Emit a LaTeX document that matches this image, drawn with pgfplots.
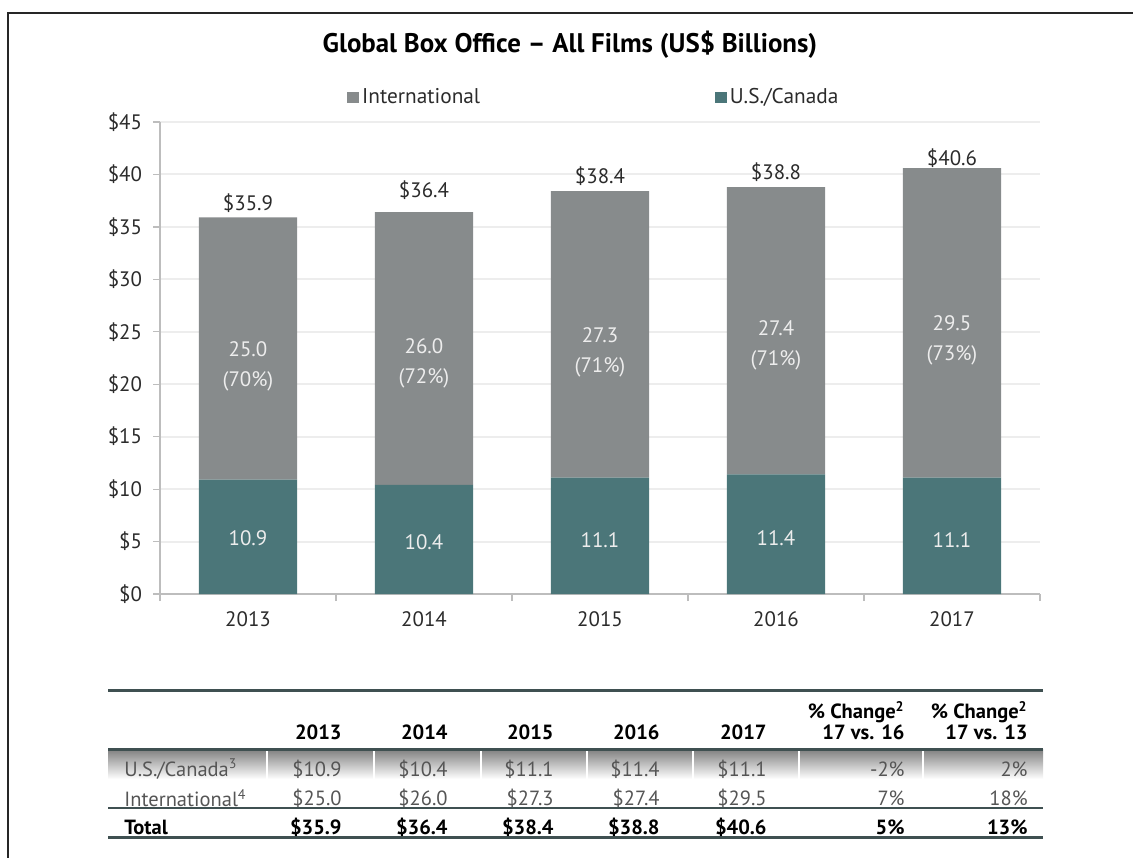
\documentclass[border=0pt]{standalone}
\usepackage{pgfplots}
\pgfplotsset{compat=1.18}
\usepackage{fontspec}
\setmainfont{PT Sans}
\definecolor{intl}{HTML}{878B8C}
\definecolor{usca}{HTML}{4B7679}
\definecolor{gridc}{HTML}{EDEDED}
\definecolor{axisc}{HTML}{BDBDBD}
\definecolor{tline}{HTML}{3F5051}
\definecolor{shade}{HTML}{D8DCDC}
\definecolor{txt}{HTML}{2B2B2B}
\definecolor{rowtxt}{HTML}{555555}
\definecolor{inlab}{HTML}{EDEDED}
\begin{document}
\begin{tikzpicture}
\path[use as bounding box] (0,0) rectangle (566.5bp,-429bp);
\draw[line width=1.2bp, color=black!85] (4bp,-429bp) -- (4bp,-6.5bp) -- (566.5bp,-6.5bp);
\node[font=\bfseries\fontsize{13.5}{16}\selectfont, text=black] at (285bp,-22.5bp) {Global Box Office – All Films (US\$ Billions)};

\begin{axis}[
  at={(80bp,-297bp)}, anchor=south west,
  scale only axis, width=440bp, height=236bp,
  ybar stacked, bar width=0.557,
  xmin=-0.5, xmax=4.5, ymin=0, ymax=45,
  ytick={0,5,10,15,20,25,30,35,40,45},
  yticklabel={\$\pgfmathprintnumber{\tick}},
  /pgf/number format/assume math mode=true,
  xtick={0,1,2,3,4}, xticklabels={2013,2014,2015,2016,2017},
  minor xtick={-0.5,0.5,1.5,2.5,3.5,4.5},
  major tick length=3.5bp, minor tick length=3.5bp,
  major x tick style={draw=none},
  minor x tick style={draw=axisc, line width=0.6bp},
  major y tick style={draw=axisc, line width=0.6bp},
  tick align=outside,
  ymajorgrids, xmajorgrids=false,
  major grid style={gridc, line width=1bp},
  axis x line*=bottom, axis y line*=left,
  axis line style={axisc, line width=0.6bp},
  yticklabel style={font=\fontsize{10.5}{12}\selectfont, text=txt, xshift=-2bp},
  xticklabel style={font=\fontsize{10.5}{12}\selectfont, text=txt, yshift=-2bp},
  legend columns=2,
  legend style={at={(0.2125,1.0519)}, anchor=west, draw=none, fill=none,
    font=\fontsize{10.7}{12}\selectfont, text=txt, inner sep=0pt,
    nodes={inner sep=1.4bp},
    /tikz/every even column/.append style={column sep=116bp}},
  legend image code/.code={\fill[#1] (0bp,-2.75bp) rectangle (6bp,2.75bp);},
]
\addplot[fill=usca, draw=none, forget plot] coordinates {(0,10.9) (1,10.4) (2,11.1) (3,11.4) (4,11.1)};
\addplot[fill=intl, draw=none, forget plot] coordinates {(0,25.0) (1,26.0) (2,27.3) (3,27.4) (4,29.5)};
\addlegendimage{fill=intl, draw=none}
\addlegendentry{International}
\addlegendimage{fill=usca, draw=none}
\addlegendentry{U.S./Canada}

\coordinate (t0) at (axis cs:0,37.28);
\coordinate (t1) at (axis cs:1,38.52);
\coordinate (t2) at (axis cs:2,39.85);
\coordinate (t3) at (axis cs:3,40.23);
\coordinate (t4) at (axis cs:4,41.57);
\coordinate (i0) at (axis cs:0,21.74);
\coordinate (i1) at (axis cs:1,21.97);
\coordinate (i2) at (axis cs:2,23.07);
\coordinate (i3) at (axis cs:3,23.69);
\coordinate (i4) at (axis cs:4,24.22);
\coordinate (u0) at (axis cs:0,5.34);
\coordinate (u1) at (axis cs:1,4.96);
\coordinate (u2) at (axis cs:2,5.15);
\coordinate (u3) at (axis cs:3,5.34);
\coordinate (u4) at (axis cs:4,5.15);
\end{axis}

\begin{scope}[every node/.style={font=\fontsize{10.5}{12}\selectfont, text=txt}]
\node at (t0) {\$35.9};
\node at (t1) {\$36.4};
\node at (t2) {\$38.4};
\node at (t3) {\$38.8};
\node at (t4) {\$40.6};
\end{scope}
\begin{scope}[every node/.style={font=\fontsize{10.5}{15}\selectfont, text=inlab, align=center}]
\node at (i0) {25.0\\(70\%)};
\node at (i1) {26.0\\(72\%)};
\node at (i2) {27.3\\(71\%)};
\node at (i3) {27.4\\(71\%)};
\node at (i4) {29.5\\(73\%)};
\node at (u0) {10.9};
\node at (u1) {10.4};
\node at (u2) {11.1};
\node at (u3) {11.4};
\node at (u4) {11.1};
\end{scope}

% table
\fill[shade] (54bp,-374.5bp) rectangle (521.5bp,-389.5bp);
\foreach \x in {133.5,187,240.5,293.5,346.5,399.5,461.5}
  \draw[white, line width=1bp] (\x bp,-374.5bp) -- (\x bp,-389.5bp);
\draw[tline, line width=1.5bp] (54bp,-345bp) -- (521.5bp,-345bp);
\draw[tline, line width=1.5bp] (54bp,-374.5bp) -- (521.5bp,-374.5bp);
\draw[tline, line width=1.2bp] (54bp,-404bp) -- (521.5bp,-404bp);
\draw[tline, line width=1.5bp] (54bp,-418.5bp) -- (521.5bp,-418.5bp);

\begin{scope}[every node/.style={font=\bfseries\fontsize{10.3}{11}\selectfont, text=black, anchor=east, inner sep=0pt}]
\node at (171bp,-366bp) {2013};
\node at (224bp,-366bp) {2014};
\node at (277bp,-366bp) {2015};
\node at (330bp,-366bp) {2016};
\node at (383.5bp,-366bp) {2017};
\node at (452.5bp,-356bp) {\% Change\textsuperscript{\fontsize{7}{8}\selectfont 2}};
\node at (452.5bp,-366bp) {17 vs. 16};
\node at (514bp,-356bp) {\% Change\textsuperscript{\fontsize{7}{8}\selectfont 2}};
\node at (514bp,-366bp) {17 vs. 13};
\node at (171bp,-413.5bp) {\$35.9};
\node at (224bp,-413.5bp) {\$36.4};
\node at (277bp,-413.5bp) {\$38.4};
\node at (330bp,-413.5bp) {\$38.8};
\node at (383.5bp,-413.5bp) {\$40.6};
\node at (452.5bp,-413.5bp) {5\%};
\node at (514bp,-413.5bp) {13\%};
\node[anchor=west] at (62bp,-413.5bp) {Total};
\end{scope}
\begin{scope}[every node/.style={font=\fontsize{10.3}{11}\selectfont, text=rowtxt, anchor=east, inner sep=0pt}]
\node[anchor=west] at (62bp,-384.5bp) {U.S./Canada\textsuperscript{\fontsize{7}{8}\selectfont 3}};
\node at (171bp,-384.5bp) {\$10.9};
\node at (224bp,-384.5bp) {\$10.4};
\node at (277bp,-384.5bp) {\$11.1};
\node at (330bp,-384.5bp) {\$11.4};
\node at (383.5bp,-384.5bp) {\$11.1};
\node at (452.5bp,-384.5bp) {-2\%};
\node at (514bp,-384.5bp) {2\%};
\node[anchor=west] at (62bp,-399bp) {International\textsuperscript{\fontsize{7}{8}\selectfont 4}};
\node at (171bp,-399bp) {\$25.0};
\node at (224bp,-399bp) {\$26.0};
\node at (277bp,-399bp) {\$27.3};
\node at (330bp,-399bp) {\$27.4};
\node at (383.5bp,-399bp) {\$29.5};
\node at (452.5bp,-399bp) {7\%};
\node at (514bp,-399bp) {18\%};
\end{scope}
\end{tikzpicture}
\end{document}
